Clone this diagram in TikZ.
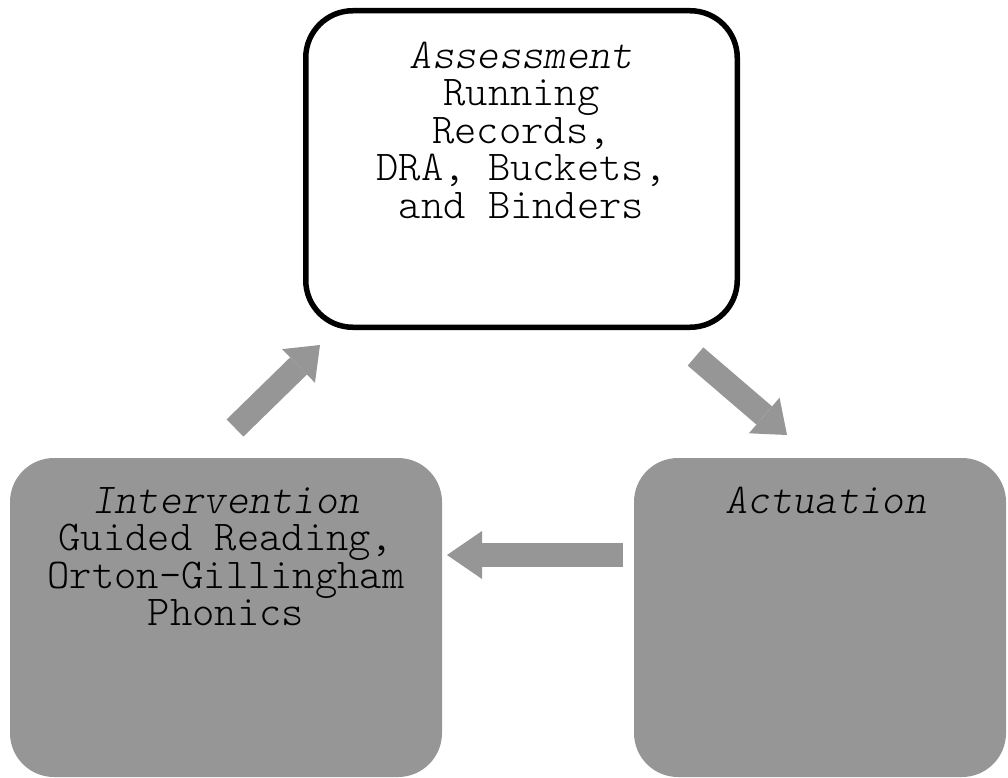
\documentclass[tikz,border=0pt]{standalone}
\usepackage{fontspec}
\setmonofont{Latin Modern Mono Light}
\usetikzlibrary{positioning,arrows.meta}
\definecolor{boxgray}{RGB}{150,150,150}
\tikzset{
  topbox/.style={draw=black, line width=5.5pt, fill=white, rounded corners=47pt,
    inner sep=0pt, outer sep=0pt},
  greybox/.style={fill=boxgray, rounded corners=44pt, inner sep=0pt, outer sep=0pt,
    minimum height=319pt},
  boxtext/.style={align=center, inner sep=0pt, font=\ttfamily\fontsize{42.5}{37.5}\selectfont},
  blockarrow/.style={draw=boxgray, line width=24pt,
    -{Triangle[length=30pt,width=47pt,line width=0pt]}},
}
\begin{document}
\begin{tikzpicture}[x=1pt,y=-1pt]
  \useasboundingbox (0,0) rectangle (1008,778);
  % the three boxes
  \node[topbox, minimum width=431.5pt, minimum height=316.5pt] (assess) at (521.5,169) {};
  \node[greybox, minimum width=432pt] (interv) at (226,617.5) {};
  \node[greybox, minimum width=372pt] (actu) at (820,617.5) {};
  % texts
  \node[boxtext, below=31pt of assess.north] (assesstxt)
    {\textit{Assessment}\\Running\\Records,\\DRA, Buckets,\\and Binders};
  \node[boxtext, below=29pt of interv.north] (intervtxt)
    {\textit{Intervention}\\Guided Reading,\\Orton-Gillingham\\Phonics};
  \node[boxtext, below=29pt of actu.north, xshift=6pt] (actutxt) {\textit{Actuation}};
  % arrows
  \coordinate (up1) at (235,428);
  \coordinate (up2) at (320,345);
  \coordinate (dn1) at (695.5,356.5);
  \coordinate (dn2) at (787,435);
  \coordinate (lt1) at (623,555);
  \coordinate (lt2) at (447,555);
  \draw[blockarrow] (up1) -- (up2);
  \draw[blockarrow] (dn1) -- (dn2);
  \draw[blockarrow, -{Triangle[length=35pt,width=48pt,line width=0pt]}] (lt1) -- (lt2);
\end{tikzpicture}
\end{document}
